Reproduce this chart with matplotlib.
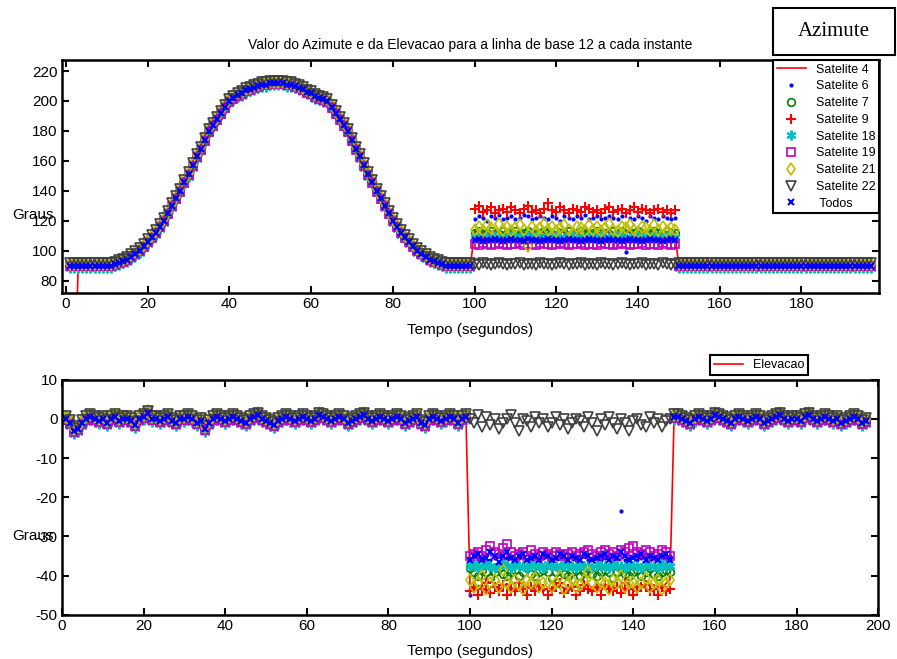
import numpy as np
import matplotlib.pyplot as plt
from matplotlib.patches import Rectangle

plt.rcParams['font.family'] = ['Liberation Sans', 'DejaVu Sans']
plt.rcParams['axes.unicode_minus'] = False

# azimute comum a todos os satelites, 1 valor por segundo (t = 1..197)
az_base = [90, 90, 90, 90, 90, 90, 90, 90, 90, 90,
           90, 91, 92, 93, 94, 96, 98, 100, 103, 106,
           109, 112, 116, 120, 125, 130, 135, 140, 146, 151,
           157, 163, 168, 174, 180, 184, 188, 192, 196, 200,
           202, 204, 205, 207, 208, 209, 210, 211, 211, 212,
           212, 212, 212, 211, 211, 210, 209, 208, 206, 205,
           203, 202, 201, 200, 196, 192, 188, 184, 180, 174,
           168, 163, 157, 151, 146, 140, 135, 130, 125, 120,
           116, 112, 109, 106, 103, 100, 98, 96, 94, 93,
           92, 91, 90, 90, 90, 90, 90, 90, 90, 90] + [90] * 97

# elevacao comum (t = 1..197)
el_base = [0, -1, -3, -2.5, -1, 0, 0.5, 0, -0.5, 0,
           -1, 0, 0.5, -0.5, 0, 0, -0.5, -1.5, 0, 0.5,
           1.5, 0, 0, -0.5, 0, 0.5, -0.5, -1, 0, 0,
           0.5, 0, -1, -0.5, -2.5, -1, 0, 0.5, 0, -0.5,
           0, 0.5, 0, -0.5, -1, 0, 0.5, 1, 0, -0.5,
           -1, -1.5, -0.5, 0, 0.5, 0, -0.5, 0, 0.5, 0,
           -0.5, 0, 1, 0.5, 0, -0.5, 0, 0.5, 0, -1,
           -0.5, 0, 0.5, 1, 0, -0.5, 0, 0.5, 0, -0.5,
           0, 0.5, 0, -1, -0.5, 0, 0.5, -1, -1.5, 0,
           0.5, 0, -0.5, 0, 0.5, 0, -1, 0, 0.5, 0,
           0, 0, 0, 0, 0, 0, 0, 0, 0, 0,
           0, 0, 0, 0, 0, 0, 0, 0, 0, 0,
           0, 0, 0, 0, 0, 0, 0, 0, 0, 0,
           0, 0, 0, 0, 0, 0, 0, 0, 0, 0,
           0, 0, 0, 0, 0, 0, 0, 0, 0, 0.5,
           0.5, 0, -0.5, -1, 0, 0.5, 0, -0.5, 0, 1,
           0.5, 0, -0.5, -1, 0, 0.5, 0, -0.5, 0, 0.5,
           0, -1, -0.5, 0, 0.5, 1, 0, -0.5, 0, 0,
           -0.5, 0.5, 1, 0, -0.5, 0, 0.5, 0, -0.5, 0,
           -1, -0.5, 0, 0.5, 0, -1, -0.5]

tempo = np.arange(1, len(az_base) + 1)
inicio_janela = 100  # segundo em que a linha de base muda

satelites = ['Satelite 4', 'Satelite 6', 'Satelite 7', 'Satelite 9', 'Satelite 18',
             'Satelite 19', 'Satelite 21', 'Satelite 22', ' Todos']

# pequeno desvio de cada satelite fora da janela
az_desvio = [0, 0, 0.5, 0, -1.5, -0.5, 1, 1.5, 0]
el_desvio = [0, 0, 0.8, -0.3, -0.8, -0.4, 0.5, 0.6, 0]

# satelite 4 comeca fora da escala
az_sat4_inicio = [0, 0]

# janela t = 100..149
az_janela = [
    [113, 112, 112, 111, 112, 113, 112, 112, 111, 112, 113, 112, 112, 111, 112, 112, 113, 112, 111, 112,
     112, 113, 112, 112, 111, 112, 112, 113, 112, 111, 112, 112, 113, 112, 112, 111, 112, 113, 112, 112,
     111, 112, 112, 113, 112, 111, 112, 112, 113, 112],
    [121, 123, 122, 120, 123, 122, 124, 121, 122, 123, 121, 122, 124, 123, 121, 122, 123, 122, 121, 123,
     122, 120, 123, 122, 121, 123, 122, 124, 121, 122, 123, 121, 122, 123, 122, 121, 123, 99, 122, 121,
     123, 122, 120, 123, 122, 121, 123, 122, 121, 122],
    [112, 113, 111, 112, 113, 112, 111, 113, 112, 112, 113, 111, 112, 113, 112, 111, 112, 113, 112, 111,
     113, 112, 112, 113, 111, 112, 113, 112, 111, 112, 113, 112, 112, 111, 113, 112, 113, 111, 112, 112,
     113, 112, 111, 112, 113, 112, 111, 113, 112, 112],
    [128, 130, 126, 127, 129, 125, 127, 128, 126, 129, 127, 125, 128, 130, 126, 127, 125, 128, 132, 127,
     126, 129, 127, 125, 128, 127, 126, 129, 128, 126, 127, 125, 128, 129, 126, 127, 128, 125, 127, 129,
     126, 128, 127, 125, 127, 128, 126, 127, 125, 127],
    [109, 109.5, 108.5, 109, 109, 110, 109, 108.5, 109, 109.5, 109, 109, 108.5, 109.5, 109, 110, 109, 108.5,
     109, 109, 109.5, 109, 108.5, 109, 110, 109, 109, 108.5, 109.5, 109, 109, 110, 109, 108.5, 109, 109.5,
     109, 109, 108.5, 109, 110, 109, 109.5, 109, 108.5, 109, 109, 109.5, 109, 109],
    [104.5, 104, 105, 104.5, 104, 104.5, 105, 104.5, 104, 104.5, 104.5, 105, 104, 104.5, 104.5, 104, 105,
     104.5, 104.5, 104, 104.5, 105, 104.5, 104, 104.5, 104.5, 105, 104, 104.5, 104.5, 104, 105, 104.5,
     104.5, 104, 104.5, 105, 104.5, 104, 104.5, 104.5, 105, 104, 104.5, 104.5, 104, 105, 104.5, 104, 104.5],
    [114, 116, 113, 117, 115, 112, 118, 114, 116, 113, 115, 117, 114, 103, 116, 113, 115, 118, 114, 116,
     113, 115, 117, 114, 112, 116, 115, 113, 117, 114, 116, 113, 115, 118, 114, 113, 116, 115, 117, 114,
     112, 116, 115, 113, 117, 114, 116, 113, 115, 114],
    [91, 90.5, 91.5, 91, 90.5, 91, 91.5, 91, 90.5, 91, 91, 91.5, 90.5, 91, 91, 90.5, 91.5, 91, 91, 90.5,
     91, 91.5, 91, 90.5, 91, 91, 91.5, 90.5, 91, 91, 90.5, 91.5, 91, 91, 90.5, 91, 91.5, 91, 90.5, 91,
     91, 91.5, 90.5, 91, 91, 90.5, 91.5, 91, 90.5, 91],
    [107, 107.5, 106.5, 107, 107, 107.5, 107, 106.5, 107, 107.5, 107, 107, 106.5, 107.5, 107, 107, 106.5,
     107, 107.5, 107, 107, 106.5, 107, 107.5, 107, 107, 106.5, 107, 107.5, 107, 107, 106.5, 107, 107.5,
     107, 107, 106.5, 107, 107.5, 107, 107, 106.5, 107, 107.5, 107, 107, 106.5, 107, 107.5, 107],
]

el_janela = [
    [-43, -43.5, -42.5, -43, -44, -43, -42.5, -43.5, -43, -42, -43.5, -43, -44, -42.5, -43, -43.5, -43,
     -42.5, -44, -43, -43.5, -42.5, -43, -43, -44, -43, -42.5, -43.5, -43, -42, -43.5, -43, -44, -42.5,
     -43, -43.5, -43, -42.5, -44, -43, -43.5, -42.5, -43, -43, -44, -43, -42.5, -43.5, -42, -41],
    [-45, -35, -36, -35.5, -35, -36, -35.5, -35, -36, -35.5, -35, -36, -35.5, -35, -36, -35.5, -35, -36,
     -35.5, -35, -36, -35.5, -35, -36, -35.5, -35, -36, -35.5, -35, -36, -35.5, -35, -36, -35.5, -35, -36,
     -35.5, -23.5, -36, -35.5, -35, -36, -35.5, -35, -36, -35.5, -35, -36, -35.5, -35],
    [-38, -39, -40, -38.5, -39, -40.5, -39, -38, -39.5, -40, -39, -38.5, -40, -39, -38, -39.5, -40, -39,
     -38.5, -39, -40.5, -39, -38, -39.5, -40, -39, -38.5, -40, -39, -38, -39.5, -40, -39, -38.5, -39,
     -40.5, -39, -38, -39.5, -40, -39, -38.5, -40, -39, -38, -39.5, -40, -39, -38.5, -39],
    [-44, -43, -45, -43.5, -42, -44.5, -43, -44, -42.5, -45, -43.5, -44, -42, -43.5, -45, -43, -44, -42.5,
     -43.5, -45, -44, -43, -42, -44.5, -43.5, -43, -45, -44, -42.5, -43.5, -44, -43, -45, -42.5, -43.5,
     -44, -43, -44.5, -42, -43.5, -45, -44, -43, -42.5, -44, -43.5, -45, -43, -44, -43.5],
    [-37.5, -37, -38, -37.5, -37, -37.5, -38, -37.5, -37, -37.5, -38, -37, -37.5, -37.5, -38, -37, -37.5,
     -37.5, -38, -37, -37.5, -37.5, -38, -37, -37.5, -37.5, -38, -37, -37.5, -37.5, -38, -37, -37.5,
     -37.5, -38, -37, -37.5, -37.5, -38, -37, -37.5, -37.5, -38, -37, -37.5, -37.5, -38, -37, -37.5, -37.5],
    [-35, -34.5, -34, -35, -33.5, -32.5, -34, -34.5, -33, -32, -34, -35, -34.5, -34, -35, -33.5, -34.5,
     -35, -34, -34.5, -35, -34, -34.5, -35, -34.5, -34, -35, -34.5, -34, -33.5, -34.5, -35, -34, -33.5,
     -34.5, -34, -35, -33.5, -34, -33, -32.5, -34, -34.5, -33.5, -34, -35, -34.5, -33.5, -34, -35],
    [-41, -43, -42, -40, -43.5, -42, -41, -43, -38.5, -42, -43, -41, -42.5, -43.5, -41, -42, -40.5, -43,
     -42, -41.5, -43, -42, -40, -43.5, -42, -41, -43, -42.5, -41, -39, -42, -43, -41.5, -42, -43.5, -41,
     -42, -40, -43, -42, -41.5, -43, -42, -40.5, -43, -42, -41, -43.5, -42, -41],
    [0, -1, 1, -2, 0.5, -1.5, 0, -2.5, -1, 0, 1, -1, -3, 0, -0.5, -2, 0.5, -1, 0, -2, -1, 0.5, -1.5, 0,
     -2.5, -1, 0, -0.5, -2, 0.5, -1, -3, 0, -1.5, 0.5, -1, -2.5, 0, -1, -3, -0.5, 0, -1.5, -2, 0.5, -1,
     0, -2, -0.5, 0],
    [-36, -35, -34.5, -36, -35.5, -34, -35, -36.5, -35, -34, -35.5, -36, -35, -34.5, -36, -35.5, -35, -36,
     -34.5, -35, -36, -35.5, -34.5, -35, -36, -35, -35.5, -36, -34.5, -35, -36, -35.5, -35, -34.5, -36,
     -35, -35.5, -34, -35, -36, -35.5, -35, -34.5, -36, -35, -35.5, -36, -35, -34.5, -36],
]

# estilo tipo MATLAB
estilos = [
    dict(color='r', linestyle='-', marker=None, lw=1.2),
    dict(color='#0000ff', linestyle='none', marker='.', ms=4),
    dict(color='#008000', linestyle='none', marker='o', ms=5.5, mfc='none', mew=1.2),
    dict(color='r', linestyle='none', marker='+', ms=7, mew=1.5),
    dict(color='#00bfbf', linestyle='none', marker=(6, 2, 0), ms=7, mew=1.5),
    dict(color='#bf00bf', linestyle='none', marker='s', ms=6, mfc='none', mew=1.2),
    dict(color='#bfbf00', linestyle='none', marker='d', ms=6.5, mfc='none', mew=1.2),
    dict(color='#404040', linestyle='none', marker='v', ms=6.5, mfc='none', mew=1.2),
    dict(color='#0000ff', linestyle='none', marker='x', ms=5, mew=1.5),
]


def monta_serie(base, desvio, janela):
    serie = np.array(base, dtype=float) + desvio
    i0 = inicio_janela - 1
    serie[i0:i0 + len(janela)] = janela
    return serie


def estilo_eixo(ax):
    for sp in ax.spines.values():
        sp.set_linewidth(1.8)
    ax.tick_params(direction='in', top=True, right=True, length=5, width=1.5,
                   labelsize=11, pad=3)


fig = plt.figure(figsize=(8.97, 6.59), dpi=100)
ax1 = fig.add_axes([0.069, 0.555, 0.911, 0.354])
ax2 = fig.add_axes([0.069, 0.067, 0.910, 0.357])

# azimute
for k, nome in enumerate(satelites):
    serie = monta_serie(az_base, az_desvio[k], az_janela[k])
    if k == 0:
        serie[:len(az_sat4_inicio)] = az_sat4_inicio
    ax1.plot(tempo, serie, label=nome, **estilos[k])

ax1.set_xlim(-1, 199)
ax1.set_ylim(71.5, 227.4)
ax1.set_xticks(np.arange(0, 181, 20))
ax1.set_yticks(np.arange(80, 221, 20))
estilo_eixo(ax1)
ax1.set_title('Valor do Azimute e da Elevacao para a linha de base 12 a cada instante',
              fontsize=10, pad=8)
ax1.set_xlabel('Tempo (segundos)', fontsize=11, labelpad=8)
ax1.set_ylabel('Graus', fontsize=11, rotation=0, ha='center', va='center')
ax1.yaxis.set_label_coords(-0.035, 0.334)
leg1 = ax1.legend(loc='upper right', bbox_to_anchor=(1.0, 1.0), borderaxespad=0,
                  fontsize=9, numpoints=1, labelspacing=0.38, handlelength=2.3,
                  handletextpad=0.8, borderpad=0.3, fancybox=False, framealpha=1,
                  edgecolor='black')
leg1.get_frame().set_linewidth(1.5)

# elevacao
linhas = []
for k, nome in enumerate(satelites):
    serie = monta_serie(el_base, el_desvio[k], el_janela[k])
    ln, = ax2.plot(tempo, serie, **estilos[k])
    linhas.append(ln)

ax2.set_xlim(0, 200)
ax2.set_ylim(-50, 10)
ax2.set_xticks(np.arange(0, 201, 20))
ax2.set_yticks(np.arange(-50, 11, 10))
estilo_eixo(ax2)
ax2.set_xlabel('Tempo (segundos)', fontsize=11, labelpad=8)
ax2.set_ylabel('Graus', fontsize=11, rotation=0, ha='center', va='center')
ax2.yaxis.set_label_coords(-0.035, 0.337)
leg2 = ax2.legend([linhas[0]], ['Elevacao'], loc='lower right',
                  bbox_to_anchor=(0.914, 1.02), borderaxespad=0, fontsize=9,
                  handlelength=2.3, handletextpad=0.8, borderpad=0.3,
                  fancybox=False, framealpha=1, edgecolor='black')
leg2.get_frame().set_linewidth(1.5)

# caixa "Azimute" no canto
fig.add_artist(Rectangle((773 / 897, 1 - 55 / 659), 122 / 897, 47 / 659,
                         transform=fig.transFigure, fill=False, lw=1.5, ec='black'))
fig.text(834 / 897, 1 - 31 / 659, 'Azimute', ha='center', va='center',
         fontsize=15, family='Liberation Serif')

fig.savefig('out.png', dpi=100, facecolor='white')
